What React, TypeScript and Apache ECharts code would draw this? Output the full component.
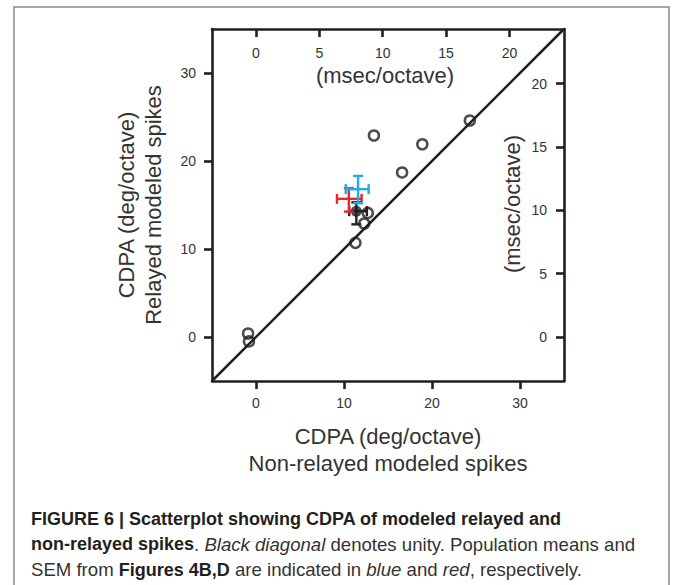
import React, { useEffect, useRef } from "react";
import * as echarts from "echarts";

// Scatter points (deg/octave)
const nonRelayed = [-0.9, -0.8, 11.3, 12.3, 12.7, 13.4, 16.6, 18.9, 24.3];
const relayed = [0.4, -0.5, 10.7, 12.9, 14.1, 22.9, 18.7, 21.9, 24.6];

// Means with error bars: [x, y, xLow, xHigh, yLow, yHigh]
const blackMean = [11.4, 14.3, 10.6, 12.6, 12.8, 15.3];
const blueMean = [11.6, 16.8, 10.2, 12.8, 15.2, 18.3];
const redMean = [10.55, 15.7, 9.2, 12.0, 14.25, 16.9];

const degTicks = [0, 10, 20, 30];
const msecTicks = [0, 5, 10, 15, 20];
const degMin = -5;
const degMax = 35;
const msecPerDeg = 1 / 1.44;

const INK = "#231f20";
const BLUE = "#29a9e1";
const RED = "#e8262b";
const FONT = "Liberation Sans, Arial, sans-serif";

function errorSeries(name: string, d: number[], color: string, z: number) {
  return {
    type: "custom",
    name,
    z,
    xAxisIndex: 0,
    yAxisIndex: 0,
    data: [d],
    renderItem: (_p: any, api: any) => {
      const x = api.value(0), y = api.value(1);
      const xl = api.value(2), xh = api.value(3);
      const yl = api.value(4), yh = api.value(5);
      const c = api.coord([x, y]);
      const a = api.coord([xl, y]);
      const b = api.coord([xh, y]);
      const lo = api.coord([x, yl]);
      const hi = api.coord([x, yh]);
      const cap = 5;
      const style = { stroke: color, lineWidth: 2.4, fill: null };
      return {
        type: "group",
        children: [
          { type: "line", shape: { x1: a[0], y1: c[1], x2: b[0], y2: c[1] }, style },
          { type: "line", shape: { x1: c[0], y1: lo[1], x2: c[0], y2: hi[1] }, style },
          { type: "line", shape: { x1: a[0], y1: c[1] - cap, x2: a[0], y2: c[1] + cap }, style },
          { type: "line", shape: { x1: b[0], y1: c[1] - cap, x2: b[0], y2: c[1] + cap }, style },
          { type: "line", shape: { x1: c[0] - cap, y1: lo[1], x2: c[0] + cap, y2: lo[1] }, style },
          { type: "line", shape: { x1: c[0] - cap, y1: hi[1], x2: c[0] + cap, y2: hi[1] }, style },
        ],
      };
    },
  };
}

export default function App() {
  const ref = useRef<HTMLDivElement>(null);
  useEffect(() => {
    if (!ref.current) return;
    const chart = echarts.init(ref.current, null, { renderer: "svg" });
    const tickLabel = { fontFamily: FONT, fontSize: 14, color: "#333" };
    const axisLine = { show: true, onZero: false, lineStyle: { color: INK, width: 2.6 } };
    const tickStyle = { lineStyle: { color: INK, width: 2.6 } };
    const option: any = {
      animation: false,
      backgroundColor: "#fff",
      grid: { left: 212, top: 29, width: 352, height: 352, containLabel: false },
      xAxis: [
        {
          type: "value",
          position: "bottom",
          min: degMin,
          max: degMax,
          axisLine,
          splitLine: { show: false },
          axisTick: { show: true, length: 8, customValues: degTicks, ...tickStyle },
          axisLabel: { customValues: degTicks, margin: 15, ...tickLabel },
          name: "CDPA (deg/octave)\nNon-relayed modeled spikes",
          nameLocation: "middle",
          nameGap: 42,
          nameTextStyle: { fontFamily: FONT, fontSize: 22, color: "#333", lineHeight: 27 },
        },
        {
          type: "value",
          position: "top",
          min: degMin * msecPerDeg,
          max: degMax * msecPerDeg,
          axisLine,
          splitLine: { show: false },
          axisTick: { show: true, inside: true, length: 8, customValues: msecTicks, ...tickStyle },
          axisLabel: { inside: true, customValues: msecTicks, margin: 17, ...tickLabel },
        },
      ],
      yAxis: [
        {
          type: "value",
          position: "left",
          min: degMin,
          max: degMax,
          axisLine,
          splitLine: { show: false },
          axisTick: { show: true, length: 8, customValues: degTicks, ...tickStyle },
          axisLabel: { customValues: degTicks, margin: 16, ...tickLabel },
          name: "CDPA (deg/octave)\nRelayed modeled spikes",
          nameLocation: "middle",
          nameGap: 45,
          nameRotate: 90,
          nameTextStyle: { fontFamily: FONT, fontSize: 22, color: "#333", lineHeight: 27 },
        },
        {
          type: "value",
          position: "right",
          min: degMin * msecPerDeg,
          max: degMax * msecPerDeg,
          axisLine,
          splitLine: { show: false },
          axisTick: { show: true, inside: true, length: 8, customValues: msecTicks, ...tickStyle },
          axisLabel: { inside: true, customValues: msecTicks, margin: 17, ...tickLabel },
        },
      ],
      graphic: [
        {
          type: "rect",
          shape: { x: 14, y: 7, width: 655, height: 590 },
          style: { fill: null, stroke: "#8a8a8a", lineWidth: 1.5 },
          silent: true,
          z: -10,
        },
        {
          type: "text",
          x: 385,
          y: 75,
          style: {
            text: "(msec/octave)",
            fontFamily: FONT,
            fontSize: 22,
            fill: "#333",
            align: "center",
            verticalAlign: "middle",
          },
        },
        {
          type: "text",
          x: 512,
          y: 204,
          rotation: Math.PI / 2,
          style: {
            text: "(msec/octave)",
            fontFamily: FONT,
            fontSize: 22,
            fill: "#333",
            align: "center",
            verticalAlign: "middle",
          },
        },
        {
          type: "text",
          x: 31,
          y: 506,
          style: {
            text:
              "{b|FIGURE 6 | Scatterplot showing CDPA of modeled relayed and}\n" +
              "{b|non-relayed spikes}{n|. }{i|Black diagonal}{n| denotes unity. Population means and}\n" +
              "{n|SEM from }{b|Figures 4B,D}{n| are indicated in }{i|blue}{n| and }{i|red}{n|, respectively.}",
            fontFamily: FONT,
            fontSize: 18,
            fill: INK,
            lineHeight: 25.5,
            rich: {
              b: { fontWeight: "bold", fontSize: 18, fill: INK, lineHeight: 25.5, fontFamily: FONT },
              n: { fontSize: 18.6, fill: "#333", lineHeight: 25.5, fontFamily: FONT },
              i: { fontStyle: "italic", fontSize: 18.6, fill: "#333", lineHeight: 25.5, fontFamily: FONT },
            },
          },
        },
      ],
      series: [
        {
          type: "line",
          data: [
            [degMin, degMin],
            [degMax, degMax],
          ],
          symbol: "none",
          lineStyle: { color: INK, width: 2.6 },
          z: 2,
        },
        {
          type: "scatter",
          data: nonRelayed.map((x, i) => [x, relayed[i]]),
          symbol: "circle",
          symbolSize: 10,
          itemStyle: { color: "rgba(255,255,255,0)", borderColor: INK, borderWidth: 2.5 },
          z: 3,
        },
        errorSeries("black", blackMean, INK, 4),
        {
          type: "scatter",
          data: [[blackMean[0], blackMean[1]]],
          symbol: "circle",
          symbolSize: 11,
          itemStyle: { color: INK },
          z: 5,
        },
        errorSeries("red", redMean, RED, 6),
        errorSeries("blue", blueMean, BLUE, 7),
      ],
    };
    chart.setOption(option);
    return () => chart.dispose();
  }, []);
  return (
    <div
      ref={ref}
      style={{ position: "fixed", left: 0, top: 0, width: 675, height: 585, background: "#fff" }}
    />
  );
}
